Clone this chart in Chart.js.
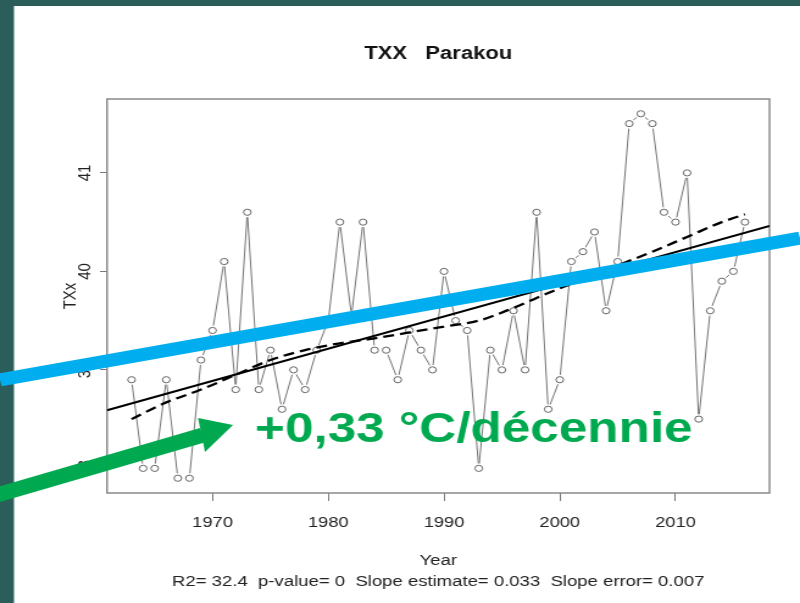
<!DOCTYPE html>
<html>
<head>
<meta charset="utf-8">
<title>TXX Parakou</title>
<script src="https://cdn.jsdelivr.net/npm/chart.js@4.4.1/dist/chart.umd.min.js"></script>
<style>
	html, body { margin: 0; padding: 0; background: #ffffff; overflow: hidden; }
	/* the slide picture is stretched sideways, so draw narrow and widen it */
	#chart { display: block; transform: scaleX(1.2195); transform-origin: 0 0; }
</style>
</head>
<body>
<canvas id="chart" width="656" height="603"></canvas>
<script>
const years = [
	1963, 1964, 1965, 1966, 1967, 1968, 1969, 1970, 1971, 1972,
	1973, 1974, 1975, 1976, 1977, 1978, 1979, 1980, 1981, 1982,
	1983, 1984, 1985, 1986, 1987, 1988, 1989, 1990, 1991, 1992,
	1993, 1994, 1995, 1996, 1997, 1998, 1999, 2000, 2001, 2002,
	2003, 2004, 2005, 2006, 2007, 2008, 2009, 2010, 2011, 2012,
	2013, 2014, 2015, 2016,
];

const txxValues = [
	38.9, 38.0, 38.0, 38.9, 37.9, 37.9, 39.1, 39.4, 40.1, 38.8,
	40.6, 38.8, 39.2, 38.6, 39.0, 38.8, 39.2, 39.5, 40.5, 39.55,
	40.5, 39.2, 39.2, 38.9, 39.4, 39.2, 39.0, 40.0, 39.5, 39.4,
	38.0, 39.2, 39.0, 39.6, 39.0, 40.6, 38.6, 38.9, 40.1, 40.2,
	40.4, 39.6, 40.1, 41.5, 41.6, 41.5, 40.6, 40.5, 41.0, 38.5,
	39.6, 39.9, 40.0, 40.5,
];

// smoothed curve (dashed), read every few years
const smoothYears = [1963, 1966, 1969, 1972, 1975, 1978, 1981, 1984, 1987, 1990, 1993, 1996, 1999, 2002, 2005, 2008, 2011, 2014, 2016];
const smoothValues = [38.5, 38.67, 38.8, 38.95, 39.1, 39.2, 39.27, 39.32, 39.38, 39.44, 39.5, 39.63, 39.78, 39.92, 40.06, 40.2, 40.35, 40.5, 40.58];

// linear fit, drawn edge to edge like abline()
const trendYears = [1960.88, 2018.12];
const trendValues = [38.59, 40.46];

const xTicks = [1970, 1980, 1990, 2000, 2010];
const yTicks = [38, 39, 40, 41];

const titleText = 'TXX   Parakou';
const yTitle = 'TXx';
const xTitle = ['Year', 'R2= 32.4  p-value= 0  Slope estimate= 0.033  Slope error= 0.007'];
const noteText = '+0,33 °C/décennie';

const fontFamily = '"Liberation Sans", Arial, Helvetica, sans-serif';
const stretch = 1.2195;
const teal = '#2b5e5b';

const toPoints = (xs, ys) => xs.map((x, i) => ({ x, y: ys[i] }));

const slideFrame = {
	id: 'slideFrame',
	beforeDraw(chart) {
		const { ctx } = chart;
		ctx.save();
		ctx.fillStyle = teal;
		ctx.fillRect(0, 0, chart.width, 6);
		ctx.fillRect(0, 0, 14 / stretch, chart.height);
		ctx.restore();
	},
	beforeDatasetsDraw(chart) {
		const { ctx, chartArea: a } = chart;
		ctx.save();
		ctx.strokeStyle = '#8a8a8a';
		ctx.lineWidth = 1.5;
		ctx.strokeRect(a.left, a.top, a.right - a.left, a.bottom - a.top);
		ctx.restore();
	},
	afterDraw(chart) {
		const { ctx } = chart;
		const sx = (x) => x / stretch;
		ctx.save();

		// blue line laid over the slide
		ctx.strokeStyle = '#00aeef';
		ctx.lineWidth = 13;
		ctx.beginPath();
		ctx.moveTo(sx(0), 380);
		ctx.lineTo(sx(800), 238);
		ctx.stroke();

		// green arrow
		ctx.strokeStyle = '#00a94f';
		ctx.fillStyle = '#00a94f';
		ctx.lineWidth = 15;
		ctx.beginPath();
		ctx.moveTo(sx(-10), 497);
		ctx.lineTo(sx(203), 435);
		ctx.stroke();
		ctx.beginPath();
		ctx.moveTo(sx(233), 425);
		ctx.lineTo(sx(198), 418);
		ctx.lineTo(sx(205), 452);
		ctx.closePath();
		ctx.fill();

		ctx.font = `bold 42px ${fontFamily}`;
		ctx.textBaseline = 'alphabetic';
		ctx.fillText(noteText, sx(255), 442);
		ctx.restore();
	},
};

new Chart(document.getElementById('chart'), {
	type: 'scatter',
	data: {
		datasets: [
			{
				data: toPoints(years, txxValues),
				showLine: true,
				borderColor: '#747474',
				borderWidth: 1,
				pointRadius: 0,
				order: 5,
			},
			{
				// white gaps around the circles, as in type = "b"
				data: toPoints(years, txxValues),
				showLine: false,
				pointRadius: 5,
				pointBorderWidth: 0,
				pointBackgroundColor: '#ffffff',
				order: 4,
			},
			{
				data: toPoints(years, txxValues),
				showLine: false,
				pointRadius: 3.1,
				pointBorderWidth: 1,
				pointBorderColor: '#666666',
				pointBackgroundColor: '#ffffff',
				order: 3,
			},
			{
				data: toPoints(smoothYears, smoothValues),
				showLine: true,
				borderColor: '#000000',
				borderWidth: 2.3,
				borderDash: [9, 5],
				pointRadius: 0,
				cubicInterpolationMode: 'monotone',
				order: 2,
			},
			{
				data: toPoints(trendYears, trendValues),
				showLine: true,
				borderColor: '#000000',
				borderWidth: 2,
				pointRadius: 0,
				order: 1,
			},
		],
	},
	options: {
		responsive: false,
		animation: false,
		events: [],
		layout: { padding: { left: 0, right: 25, top: 0, bottom: 0 } },
		plugins: {
			legend: { display: false },
			tooltip: { enabled: false },
			title: {
				display: true,
				fullSize: false,
				text: titleText,
				color: '#111111',
				font: { family: fontFamily, size: 18, weight: 'bold' },
				padding: { top: 43, bottom: 34.4 },
			},
		},
		scales: {
			x: {
				type: 'linear',
				min: 1960.88,
				max: 2018.12,
				afterBuildTicks: (scale) => { scale.ticks = xTicks.map((value) => ({ value })); },
				afterFit: (scale) => { scale.height = 110; },
				border: { display: false },
				grid: { drawOnChartArea: false, drawTicks: true, tickLength: 8, color: '#777777', lineWidth: 1 },
				ticks: {
					color: '#222222',
					font: { family: fontFamily, size: 15 },
					padding: 13,
					maxRotation: 0,
					callback: (value) => String(value),
				},
				title: {
					display: true,
					text: xTitle,
					color: '#222222',
					font: { family: fontFamily, size: 15.2, lineHeight: 1.35 },
					padding: { top: 0, bottom: 11 },
				},
			},
			y: {
				type: 'linear',
				min: 37.75,
				max: 41.75,
				afterBuildTicks: (scale) => { scale.ticks = yTicks.map((value) => ({ value })); },
				afterFit: (scale) => { scale.width = 87.74; },
				border: { display: false },
				grid: { drawOnChartArea: false, drawTicks: true, tickLength: 5.7, color: '#777777', lineWidth: 1 },
				ticks: {
					color: '#222222',
					font: { family: fontFamily, size: 15 },
					padding: 3.6,
					minRotation: 90,
					maxRotation: 90,
					crossAlign: 'center',
					callback: (value) => String(value),
				},
				title: {
					display: true,
					text: yTitle,
					color: '#222222',
					font: { family: fontFamily, size: 15 },
					padding: { top: 48.4, bottom: 0 },
				},
			},
		},
	},
	plugins: [slideFrame],
});
</script>
</body>
</html>
